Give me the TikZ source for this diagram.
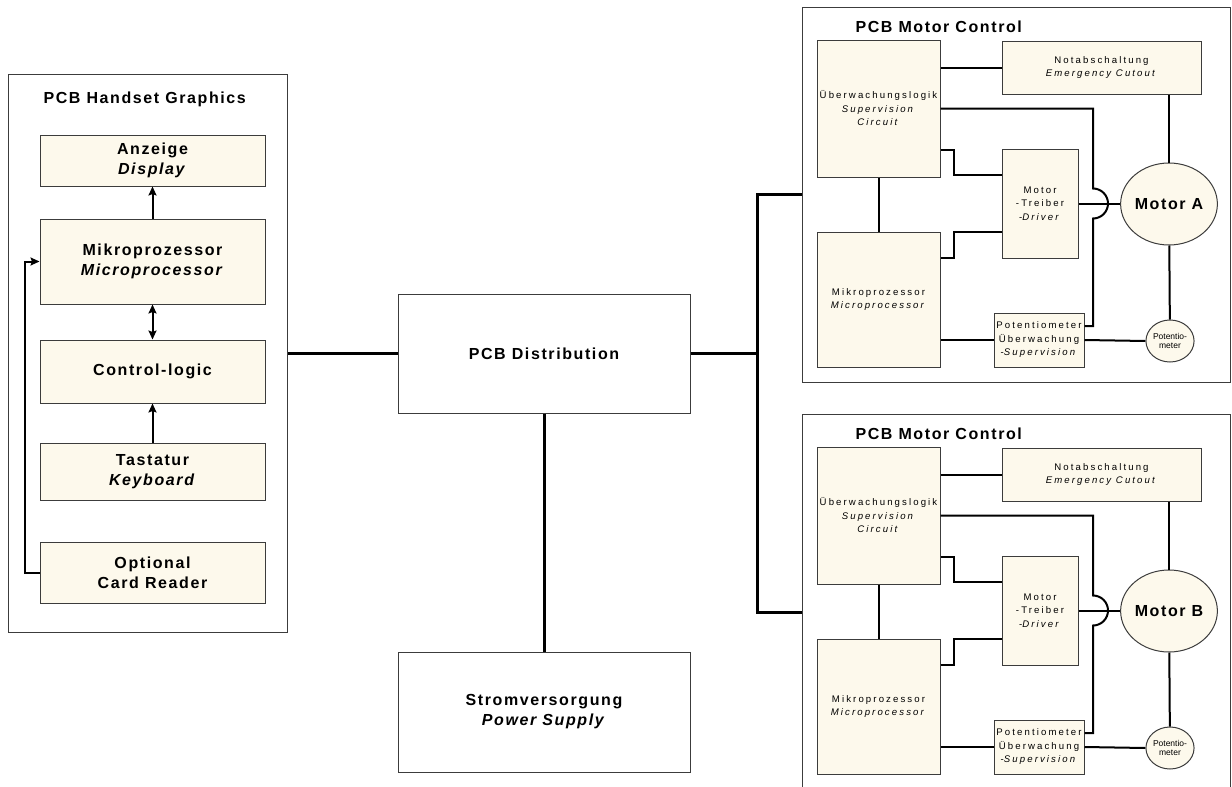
\documentclass[tikz,border=0pt]{standalone}
\usepackage{fontspec}
\setmainfont{Liberation Sans}
\newfontfamily\bigf{Liberation Sans}[LetterSpace=10]
\newfontfamily\smallf{Liberation Sans}[LetterSpace=22]
\usetikzlibrary{arrows.meta,shapes.geometric}
\definecolor{cream}{RGB}{253,249,236}
\definecolor{edge}{RGB}{60,60,60}
\tikzset{
  box/.style={draw=edge, line width=1pt, fill=cream, inner sep=0pt, align=center, rectangle},
  wbox/.style={draw=edge, line width=1pt, fill=white, inner sep=0pt, align=center, rectangle},
  frame/.style={draw=edge, line width=1pt, inner sep=0pt, rectangle},
  bigtxt/.style={font=\bigf\bfseries\fontsize{16}{20}\selectfont},
  smalltxt/.style={font=\smallf\fontsize{9.6}{13.5}\selectfont},
  tinytxt/.style={font=\fontsize{8.5}{9.5}\selectfont},
  bus/.style={line width=3pt, black},
  wire/.style={line width=2pt, black},
  arr/.style={line width=2pt, black, -{Stealth[length=9pt,width=8pt,inset=1.5pt]}},
  darr/.style={line width=2pt, black, {Stealth[length=9pt,width=8pt,inset=1.5pt]}-{Stealth[length=9pt,width=8pt,inset=1.5pt]}},
  oval/.style={draw=edge, line width=1pt, fill=cream, ellipse, inner sep=0pt, align=center}
}
\newcommand\motorpanel[3]{%
\begin{scope}[yshift=-#2pt]
  \node[frame, minimum width=428pt, minimum height=375pt] (#1frm) at (1016,194.5) {};
  \node[bigtxt, anchor=west] (#1ttl) at (852,27) {PCB Motor Control};
  \node[box, smalltxt, minimum width=123pt, minimum height=137pt] (#1ueb) at (878.5,108.5)
     {Überwachungslogik\\\textit{Supervision}\\\textit{Circuit}};
  \node[box, smalltxt, minimum width=199pt, minimum height=53pt] (#1not) at (1101.5,67.5)
     {Notabschaltung\\\textit{Emergency Cutout}};
  \node[box, smalltxt, minimum width=76pt, minimum height=109pt] (#1drv) at (1040,203.5)
     {Motor\\-Treiber\\-\textit{Driver}};
  \node[box, smalltxt, minimum width=123pt, minimum height=135pt] (#1mcu) at (878.5,299.5)
     {Mikroprozessor\\\textit{Microprocessor}};
  \node[box, smalltxt, minimum width=90pt, minimum height=54pt] (#1pot) at (1039,340)
     {Potentiometer\\Überwachung\\-\textit{Supervision}};
  \node[oval, bigtxt, minimum width=92pt, minimum height=82pt] (#1mot) at (1169,204) {#3};
  \node[oval, tinytxt, minimum width=46pt, minimum height=42pt] (#1pc) at (1170,341) {Potentio-\\meter};
  \coordinate (#1hop) at (1093,203.5);
  % connectors
  \draw[wire] (#1not.west) -- (#1not.west -| #1ueb.east);
  \draw[wire] (#1ueb.east) -| ([yshift=15pt]#1hop) arc[start angle=90,end angle=-90,radius=15pt]
     |- ([yshift=14pt]#1pot.east);
  \draw[wire] ([yshift=28pt]#1ueb.south east) -- ++(13,0) |- ([yshift=-26pt]#1drv.north west);
  \draw[wire] ([yshift=-26pt]#1mcu.north east) -- ++(13,0) |- ([yshift=27pt]#1drv.south west);
  \draw[wire] (#1ueb) -- (#1mcu);
  \draw[wire] (#1drv.east) -- (#1drv.east -| #1mot.west);
  \draw[wire] (#1mot.north) -- (#1mot.north |- #1not.south);
  \draw[wire] (#1mot) -- (#1pc);
  \draw[wire] (#1pot.west) -- (#1pot.west -| #1mcu.east);
  \draw[wire] (#1pot.east) -- (#1pc.west);
\end{scope}}
\begin{document}
\begin{tikzpicture}[x=1pt,y=-1pt]
\useasboundingbox (0,0) rectangle (1232,787);
% left panel
\node[frame, minimum width=279pt, minimum height=558pt] (hs) at (147.5,353) {};
\node[bigtxt, anchor=west] (hst) at (40,99) {PCB Handset Graphics};
\node[box, bigtxt, minimum width=225pt, minimum height=51pt] (anz) at (152.5,160.5) {Anzeige\\\textit{Display}};
\node[box, bigtxt, minimum width=225pt, minimum height=85pt] (mic) at (152.5,261.5) {Mikroprozessor\\\textit{Microprocessor}};
\node[box, bigtxt, minimum width=225pt, minimum height=63pt] (ctl) at (152.5,371.5) {Control-logic};
\node[box, bigtxt, minimum width=225pt, minimum height=57pt] (tas) at (152.5,471.5) {Tastatur\\\textit{Keyboard}};
\node[box, bigtxt, minimum width=225pt, minimum height=61pt] (card) at (152.5,572.5) {Optional\\Card Reader};
\coordinate (lft) at (25,572.5);
\draw[arr] (mic) -- (anz);
\draw[darr] (mic) -- (ctl);
\draw[arr] (tas) -- (ctl);
\draw[arr] (card.west) -- (lft) |- (mic.west);
% middle
\node[wbox, bigtxt, minimum width=292pt, minimum height=119pt] (dist) at (544,353.5) {PCB Distribution};
\node[wbox, bigtxt, minimum width=292pt, minimum height=120pt] (pwr) at (544,712) {Stromversorgung\\\textit{Power Supply}};
\draw[bus] (dist.west) -- (dist.west -| hs.east);
\draw[bus] (dist) -- (pwr);
% motor panels
\motorpanel{a}{0}{Motor A}
\motorpanel{b}{407}{Motor B}
\coordinate (br) at (757,353.5);
\coordinate (ja) at (802,194);
\coordinate (jb) at (802,612);
\draw[bus] (dist.east) -- (br);
\draw[bus] (ja) -- (ja -| br) -- (jb -| br) -- (jb);
\end{tikzpicture}
\end{document}
